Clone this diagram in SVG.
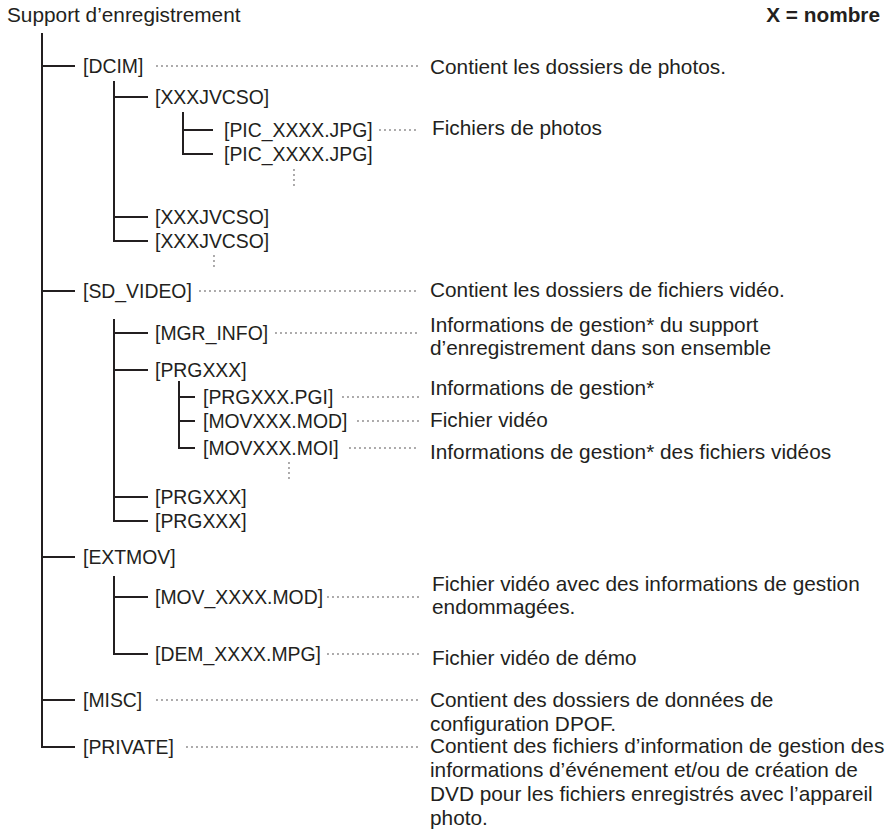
<svg xmlns="http://www.w3.org/2000/svg" width="887" height="837" viewBox="0 0 887 837">
<style>
text{font-family:"Liberation Sans",Arial,sans-serif;font-size:20.8px;fill:#231f20}
.l{font-size:19.4px}
.b{font-weight:bold}
.t{stroke:#231f20;stroke-width:2;fill:none}
.d{stroke:#231f20;stroke-width:1.4;stroke-dasharray:0 5;stroke-linecap:round;fill:none}
</style>
<rect width="887" height="837" fill="#fff"/>
<text x="7" y="22">Support d’enregistrement</text>
<text x="880" y="22" class="b" text-anchor="end">X = nombre</text>
<g id="connectors">
<path class="t" d="M42 33V747H75M42 66H75M42 291H75M42 557H75M42 700H75"/>
<path class="t" d="M114 81V241H148M114 97H148M114 217H148"/>
<path class="t" d="M183 112V154H213M183 130H213"/>
<path class="t" d="M114 319V521H148M114 333H148M114 370H148M114 497H148"/>
<path class="t" d="M179 381V448H195M179 397H195M179 421H195"/>
<path class="t" d="M114 576V654H148M114 597H148"/>
<path class="d" d="M157 66H420M380 130H420M200 291H420M276 333H420M343 397H420M358 421H420M350 448H420M328 597H420M328 654H420M157 700H420M187 747H420"/>
<path class="d" d="M294 170V186M214 256V271M289 463V479"/>
</g>
<g id="n-dcim"><text class="l" x="83" y="73">[DCIM]</text><text x="430" y="74">Contient les dossiers de photos.</text></g>
<g id="n-x1"><text class="l" x="155" y="104">[XXXJVCSO]</text></g>
<g id="n-pic1"><text class="l" x="224" y="137">[PIC_XXXX.JPG]</text><text x="432" y="135">Fichiers de photos</text></g>
<g id="n-pic2"><text class="l" x="224" y="161">[PIC_XXXX.JPG]</text></g>
<g id="n-x2"><text class="l" x="155" y="224">[XXXJVCSO]</text></g>
<g id="n-x3"><text class="l" x="155" y="248">[XXXJVCSO]</text></g>
<g id="n-sd"><text class="l" x="83" y="298">[SD_VIDEO]</text><text x="430" y="297">Contient les dossiers de fichiers vidéo.</text></g>
<g id="n-mgr"><text class="l" x="155" y="340">[MGR_INFO]</text><text x="430" y="332">Informations de gestion* du support</text><text x="430" y="355">d’enregistrement dans son ensemble</text></g>
<g id="n-prg1"><text class="l" x="155" y="377">[PRGXXX]</text></g>
<g id="n-pgi"><text class="l" x="203" y="404">[PRGXXX.PGI]</text><text x="430" y="395">Informations de gestion*</text></g>
<g id="n-mod"><text class="l" x="203" y="428">[MOVXXX.MOD]</text><text x="430" y="427">Fichier vidéo</text></g>
<g id="n-moi"><text class="l" x="203" y="455">[MOVXXX.MOI]</text><text x="430" y="459">Informations de gestion* des fichiers vidéos</text></g>
<g id="n-prg2"><text class="l" x="155" y="504">[PRGXXX]</text></g>
<g id="n-prg3"><text class="l" x="155" y="528">[PRGXXX]</text></g>
<g id="n-ext"><text class="l" x="83" y="564">[EXTMOV]</text></g>
<g id="n-movx"><text class="l" x="155" y="604">[MOV_XXXX.MOD]</text><text x="432" y="591">Fichier vidéo avec des informations de gestion</text><text x="432" y="614">endommagées.</text></g>
<g id="n-dem"><text class="l" x="155" y="661">[DEM_XXXX.MPG]</text><text x="432" y="665">Fichier vidéo de démo</text></g>
<g id="n-misc"><text class="l" x="83" y="707">[MISC]</text><text x="430" y="707">Contient des dossiers de données de</text><text x="430" y="731">configuration DPOF.</text></g>
<g id="n-priv"><text class="l" x="83" y="754">[PRIVATE]</text><text x="430" y="753">Contient des fichiers d’information de gestion des</text><text x="430" y="777">informations d’événement et/ou de création de</text><text x="430" y="801">DVD pour les fichiers enregistrés avec l’appareil</text><text x="430" y="825">photo.</text></g>
</svg>
